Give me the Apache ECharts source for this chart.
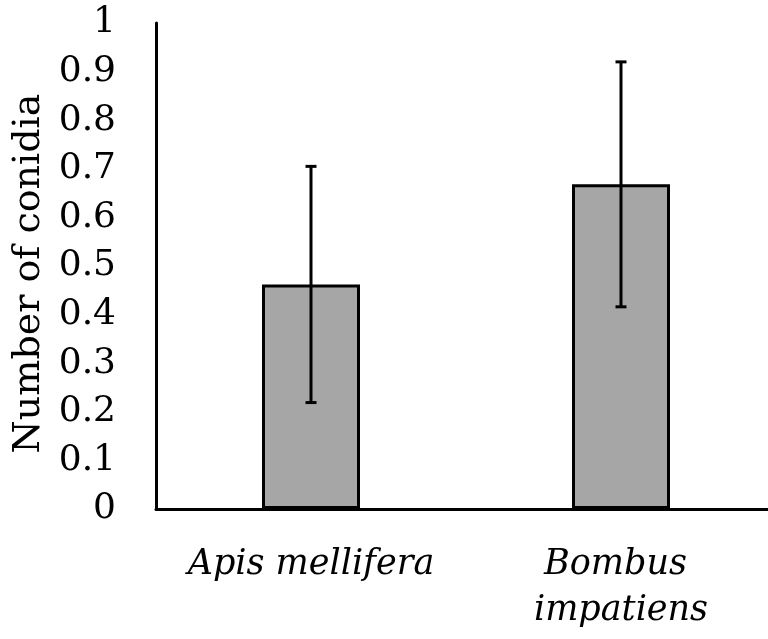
<!DOCTYPE html>
<html>
<head>
<meta charset="utf-8">
<script src="https://cdn.jsdelivr.net/npm/echarts@6/dist/echarts.min.js"></script>
<style>
html,body{margin:0;padding:0;background:#fff;overflow:hidden;width:768px;height:639px;}
#chart{width:776px;height:639px;}
</style>
</head>
<body>
<div id="chart"></div>
<script>
const categories = ['Apis mellifera', 'Bombus \nimpatiens'];
const means = [0.462, 0.668];
const errors = [0.243, 0.252];
const yTicks = [0, 0.1, 0.2, 0.3, 0.4, 0.5, 0.6, 0.7, 0.8, 0.9, 1];
const yTitle = 'Number of conidia';

const FONT = 'DejaVu Serif';
const chart = echarts.init(document.getElementById('chart'), null, {renderer: 'canvas'});

const errData = categories.map((c, i) => [i, means[i] - errors[i], means[i] + errors[i]]);

chart.setOption({
  animation: false,
  backgroundColor: '#fff',
  grid: {left: 156, top: 23, bottom: 130, right: 0, containLabel: false},
  xAxis: {
    type: 'category',
    data: categories,
    axisLine: {show: true, lineStyle: {color: '#000', width: 3}},
    axisTick: {show: false},
    axisLabel: {
      color: '#000', fontFamily: FONT, fontStyle: 'italic', fontSize: 35,
      lineHeight: 46, margin: 33, interval: 0
    },
    splitLine: {show: false}
  },
  yAxis: {
    type: 'value',
    min: 0, max: 1, interval: 0.1,
    name: yTitle,
    nameLocation: 'middle',
    nameGap: 106,
    nameRotate: 90,
    nameTextStyle: {color: '#000', fontFamily: FONT, fontSize: 38, padding: [0, 15, 0, 0]},
    axisLine: {show: true, lineStyle: {color: '#000', width: 3}},
    axisTick: {show: false},
    splitLine: {show: false},
    axisLabel: {
      color: '#000', fontFamily: FONT, fontSize: 36, margin: 40,
      formatter: function (v) {
        const t = yTicks.find(x => Math.abs(x - v) < 1e-9);
        return t === undefined ? '' : String(t);
      }
    }
  },
  series: [
    {
      type: 'bar',
      data: means,
      barWidth: 98,
      itemStyle: {color: '#a6a6a6', borderColor: '#000', borderWidth: 3}
    },
    {
      type: 'custom',
      data: errData,
      z: 10,
      renderItem: function (params, api) {
        const x = api.value(0);
        const lo = api.coord([x, api.value(1)]);
        const hi = api.coord([x, api.value(2)]);
        const hw = 5.5;
        const style = {stroke: '#000', lineWidth: 3};
        return {
          type: 'group',
          children: [
            {type: 'line', shape: {x1: lo[0], y1: lo[1], x2: hi[0], y2: hi[1]}, style: style},
            {type: 'line', shape: {x1: hi[0] - hw, y1: hi[1], x2: hi[0] + hw, y2: hi[1]}, style: style},
            {type: 'line', shape: {x1: lo[0] - hw, y1: lo[1], x2: lo[0] + hw, y2: lo[1]}, style: style}
          ]
        };
      }
    }
  ]
});
</script>
</body>
</html>
